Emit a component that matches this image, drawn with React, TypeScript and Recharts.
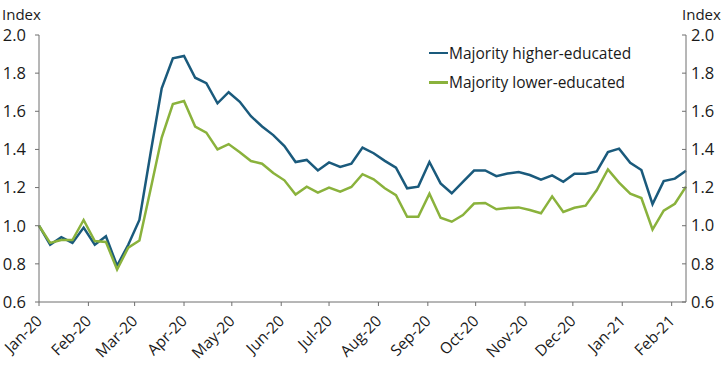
import { LineChart, Line, XAxis, YAxis } from 'recharts';

// weekly index values, first week of Jan 2020 through Feb 2021
const higherEducated = [
  1.0, 0.9, 0.94, 0.91, 0.99, 0.9, 0.945, 0.79, 0.9, 1.03,
  1.38, 1.72, 1.878, 1.89, 1.776, 1.747, 1.642, 1.7, 1.65, 1.574,
  1.52, 1.475, 1.418, 1.334, 1.345, 1.29, 1.332, 1.308, 1.325, 1.41,
  1.38, 1.34, 1.304, 1.196, 1.205, 1.334, 1.222, 1.17, 1.23, 1.289,
  1.29, 1.26, 1.274, 1.281, 1.266, 1.241, 1.264, 1.23, 1.273, 1.273,
  1.285, 1.386, 1.404, 1.33, 1.292, 1.113, 1.234, 1.247, 1.288,
];
const lowerEducated = [
  1.0, 0.91, 0.925, 0.925, 1.03, 0.92, 0.915, 0.77, 0.885, 0.922,
  1.19, 1.462, 1.638, 1.654, 1.52, 1.488, 1.4, 1.428, 1.385, 1.339,
  1.325, 1.276, 1.238, 1.164, 1.205, 1.173, 1.2, 1.178, 1.203, 1.27,
  1.243, 1.196, 1.16, 1.047, 1.047, 1.168, 1.042, 1.021, 1.056, 1.116,
  1.119, 1.086, 1.093, 1.096, 1.082, 1.065, 1.154, 1.072, 1.094, 1.105,
  1.187, 1.295, 1.226, 1.168, 1.145, 0.98, 1.079, 1.115, 1.205,
];

// month starts as days since Jan 1, 2020
const monthTicks = [0, 31, 60, 91, 121, 152, 182, 213, 244, 274, 305, 335, 366, 397];
const monthLabels = [
  'Jan-20', 'Feb-20', 'Mar-20', 'Apr-20', 'May-20', 'Jun-20', 'Jul-20',
  'Aug-20', 'Sep-20', 'Oct-20', 'Nov-20', 'Dec-20', 'Jan-21', 'Feb-21',
];
const indexTicks = [0.6, 0.8, 1.0, 1.2, 1.4, 1.6, 1.8, 2.0];

const BLUE = '#1a5a7c';
const GREEN = '#8ab23c';
const AXIS = '#6f6f6f';
const FONT = "'Open Sans', sans-serif";
const TEXT = '#1a1a1a';
const TICK_SIZE = 16.5;

const data = higherEducated.map((h, i) => ({
  day: i * 7,
  higher: h,
  lower: lowerEducated[i],
}));

function MonthTick(props: any) {
  const { x, y, payload } = props;
  const label = monthLabels[monthTicks.indexOf(payload.value)];
  const tx = x + 4;
  const ty = y + 16;
  return (
    <text
      x={tx}
      y={ty}
      transform={`rotate(-45, ${tx}, ${ty})`}
      textAnchor="end"
      fill={TEXT}
      fontSize={15.5}
      fontFamily={FONT}
    >
      {label}
    </text>
  );
}

function RightTick(props: any) {
  const { x, y, payload } = props;
  return (
    <g>
      <line x1={x - 4} y1={y} x2={x} y2={y} stroke={AXIS} />
      <text
        x={x + 5}
        y={y}
        dy="0.35em"
        textAnchor="start"
        fill={TEXT}
        fontSize={TICK_SIZE}
        fontFamily={FONT}
      >
        {Number(payload.value).toFixed(1)}
      </text>
    </g>
  );
}

function LegendBox() {
  const items = [
    { label: 'Majority higher-educated', color: BLUE },
    { label: 'Majority lower-educated', color: GREEN },
  ];
  return (
    <div style={{ position: 'absolute', left: 429, top: 38, fontFamily: FONT, fontSize: 15.5, color: TEXT }}>
      {items.map((it) => (
        <div key={it.label} style={{ display: 'flex', alignItems: 'center', height: 29.6 }}>
          <span style={{ width: 19, height: 2.5, background: it.color, display: 'inline-block' }} />
          <span style={{ marginLeft: 1 }}>{it.label}</span>
        </div>
      ))}
    </div>
  );
}

export default function App() {
  const tickStyle = { fill: TEXT, fontSize: TICK_SIZE, fontFamily: FONT };
  return (
    <div style={{ position: 'absolute', left: 0, top: 0, width: 725, height: 368, background: '#fff' }}>
      <div style={{ position: 'absolute', left: 2, top: 4, fontFamily: FONT, fontSize: 15, color: TEXT }}>
        Index
      </div>
      <div style={{ position: 'absolute', left: 682, top: 4, fontFamily: FONT, fontSize: 15, color: TEXT }}>
        Index
      </div>
      <LineChart width={725} height={368} data={data} margin={{ top: 35, right: 0, bottom: 0, left: 0 }}>
        <XAxis
          dataKey="day"
          type="number"
          domain={[0, 406]}
          ticks={monthTicks}
          interval={0}
          height={66}
          tick={<MonthTick />}
          tickSize={4}
          tickMargin={0}
          stroke={AXIS}
        />
        <YAxis
          yAxisId="left"
          orientation="left"
          domain={[0.6, 2.0]}
          ticks={indexTicks}
          interval={0}
          tickFormatter={(v: number) => v.toFixed(1)}
          width={39}
          tick={tickStyle}
          tickSize={4}
          tickMargin={9}
          stroke={AXIS}
        />
        <YAxis
          yAxisId="right"
          orientation="right"
          domain={[0.6, 2.0]}
          ticks={indexTicks}
          interval={0}
          width={39}
          tick={<RightTick />}
          tickLine={false}
          tickSize={0}
          tickMargin={0}
          stroke={AXIS}
        />
        <Line
          yAxisId="left"
          type="linear"
          dataKey="higher"
          name="Majority higher-educated"
          stroke={BLUE}
          strokeWidth={2.5}
          dot={false}
          isAnimationActive={false}
        />
        <Line
          yAxisId="right"
          type="linear"
          dataKey="lower"
          name="Majority lower-educated"
          stroke={GREEN}
          strokeWidth={2.5}
          dot={false}
          isAnimationActive={false}
        />
      </LineChart>
      <LegendBox />
    </div>
  );
}
